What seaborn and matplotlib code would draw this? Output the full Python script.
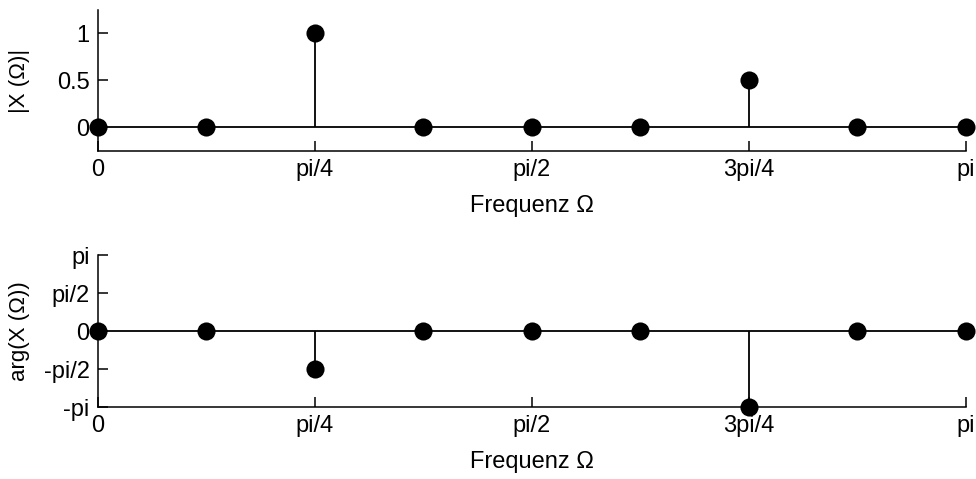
import numpy as np
import pandas as pd
import matplotlib

matplotlib.use("Agg")
import matplotlib.pyplot as plt
import seaborn as sns

# frequency samples 0 .. pi in steps of pi/8
freq = np.array([0, 1, 2, 3, 4, 5, 6, 7, 8]) * np.pi / 8
magnitude = [0, 0, 1, 0, 0, 0, 0.5, 0, 0]
phase = [0, 0, -np.pi / 2, 0, 0, 0, -np.pi, 0, 0]

x_ticks = [0, np.pi / 4, np.pi / 2, 3 * np.pi / 4, np.pi]
x_labels = ["0", "pi/4", "pi/2", "3pi/4", "pi"]
mag_ticks = [0, 0.5, 1]
mag_labels = ["0", "0.5", "1"]
phase_ticks = [-np.pi, -np.pi / 2, 0, np.pi / 2, np.pi]
phase_labels = ["-pi", "-pi/2", "0", "pi/2", "pi"]

sns.set_theme(style="ticks")
plt.rcParams["font.family"] = ["Liberation Sans", "DejaVu Sans"]
plt.rcParams["axes.linewidth"] = 1.1
plt.rcParams["axes.edgecolor"] = "black"
plt.rcParams["axes.labelcolor"] = "black"
plt.rcParams["text.color"] = "black"


def stem(ax, values):
    data = pd.DataFrame({"f": freq, "v": values})
    ax.axhline(0, color="black", lw=1.3, zorder=2)
    ax.vlines(data["f"], 0, data["v"], color="black", lw=1.3, zorder=2)
    sns.scatterplot(data=data, x="f", y="v", ax=ax, color="black", s=170,
                    linewidth=0, zorder=4, clip_on=False, legend=False)


def style(ax, yticks, ylabels, ylabel):
    sns.despine(ax=ax)
    ax.set_xlim(0, np.pi)
    ax.set_xticks(x_ticks)
    ax.set_xticklabels(x_labels)
    ax.set_yticks(yticks)
    ax.set_yticklabels(ylabels)
    ax.tick_params(direction="in", length=7, width=1.1, labelsize=17, colors="black", pad=6)
    ax.set_xlabel("Frequenz Ω", fontsize=17, labelpad=10)
    ax.set_ylabel(ylabel, fontsize=16)
    ax.yaxis.set_label_coords(-0.078, 0.5)


fig = plt.figure(figsize=(9.76, 4.79), dpi=100)
ax1 = fig.add_axes([0.1004, 0.6848, 0.889, 0.2944])
ax2 = fig.add_axes([0.1004, 0.1503, 0.889, 0.3173])

stem(ax1, magnitude)
style(ax1, mag_ticks, mag_labels, "|X (Ω)|")
ax1.set_ylim(-0.25, 1.25)

stem(ax2, phase)
style(ax2, phase_ticks, phase_labels, "arg(X (Ω))")
ax2.set_ylim(-np.pi, np.pi)

fig.savefig("out.png", dpi=100, facecolor="white")
